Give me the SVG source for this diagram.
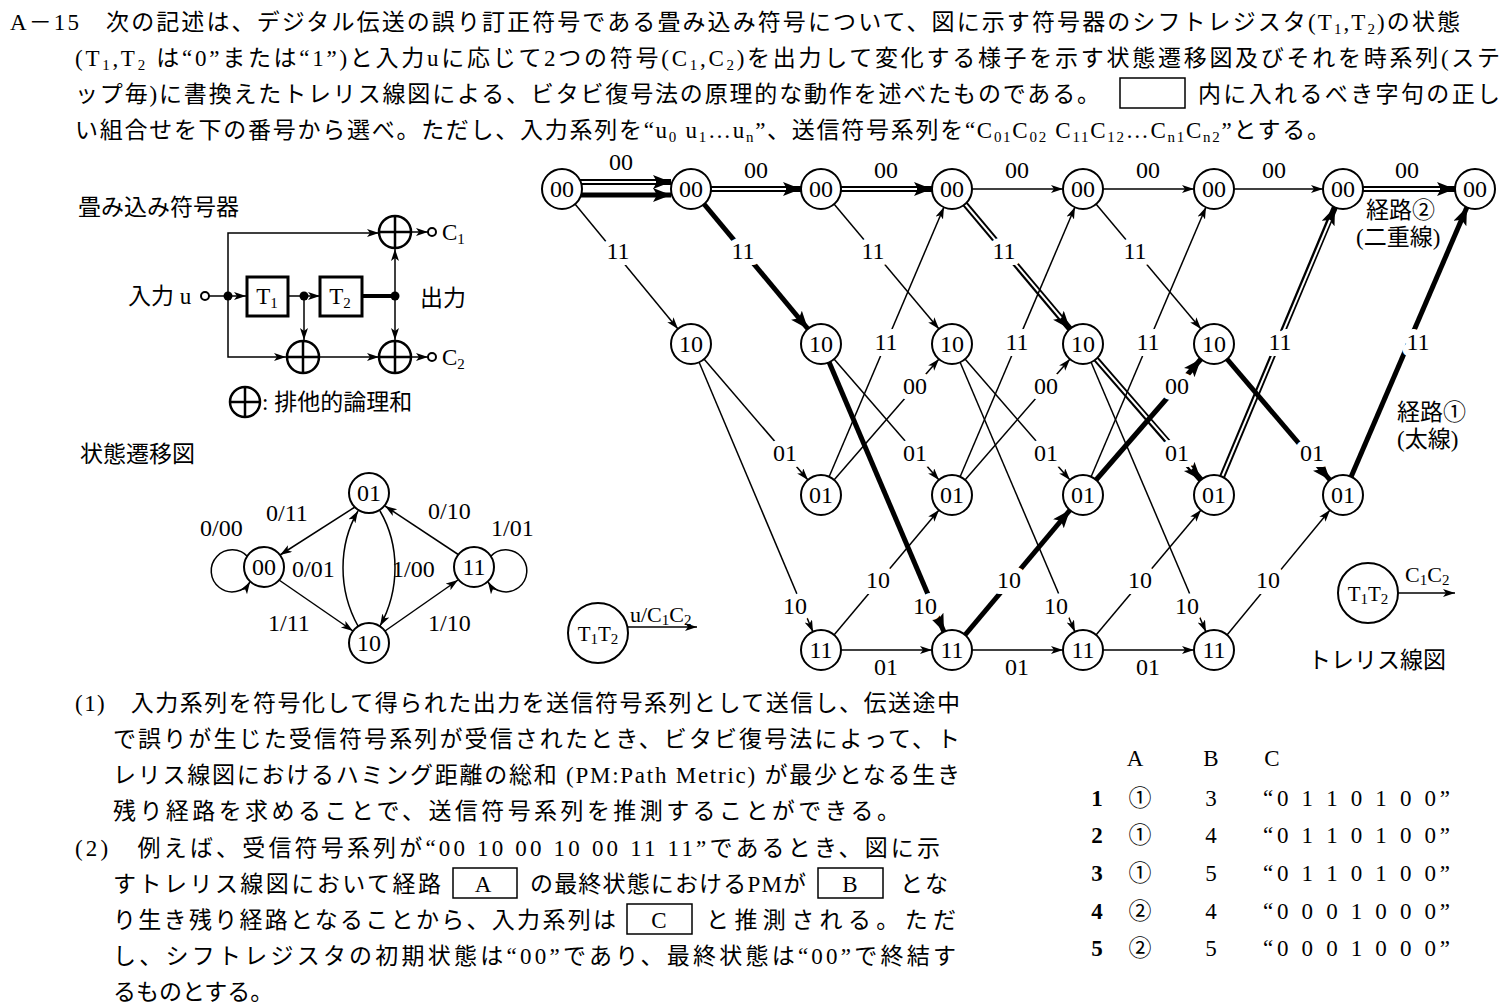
<svg xmlns="http://www.w3.org/2000/svg" width="1506" height="1008" viewBox="0 0 1506 1008">
<style>
text{font-family:"Liberation Serif","Noto Sans CJK JP",serif;fill:#000}
.j{font-size:23px}
.n{font-size:24px;text-anchor:middle;dominant-baseline:central}
.l{font-size:24px;text-anchor:middle;dominant-baseline:central;stroke:#fff;stroke-width:12;stroke-linejoin:round;paint-order:stroke}
.nd{fill:#fff;stroke:#000;stroke-width:2}
.t{stroke:#000;stroke-width:1.5;fill:none}
.k{stroke:#000;stroke-width:5;fill:none}
.d{stroke:#000;stroke-width:6;fill:none}
.w{stroke:#fff;stroke-width:2;fill:none}
.s{font-size:15px}
</style>
<defs>
<marker id="a" markerUnits="userSpaceOnUse" markerWidth="14" markerHeight="10" refX="12" refY="4" orient="auto"><path d="M0,0 L12,4 L0,8 L3,4z"/></marker>
<marker id="b" markerUnits="userSpaceOnUse" markerWidth="22" markerHeight="16" refX="18" refY="7" orient="auto"><path d="M0,0 L18,7 L0,14 L4,7z"/></marker>
</defs>
<rect width="1506" height="1008" fill="#fff"/>

<g id="header" class="j">
<text x="10" y="30" textLength="1450">A－15　次の記述は、デジタル伝送の誤り訂正符号である畳み込み符号について、図に示す符号器のシフトレジスタ(T<tspan class="s" dy="4">1</tspan><tspan dy="-4">,T</tspan><tspan class="s" dy="4">2</tspan><tspan dy="-4">)の状態</tspan></text>
<text x="75" y="66" textLength="1425">(T<tspan class="s" dy="4">1</tspan><tspan dy="-4">,T</tspan><tspan class="s" dy="4">2</tspan><tspan dy="-4"> は“0”または“1”)と入力uに応じて2つの符号(C</tspan><tspan class="s" dy="4">1</tspan><tspan dy="-4">,C</tspan><tspan class="s" dy="4">2</tspan><tspan dy="-4">)を出力して変化する様子を示す状態遷移図及びそれを時系列(ステ</tspan></text>
<text x="75" y="102" textLength="1025">ップ毎)に書換えたトレリス線図による、ビタビ復号法の原理的な動作を述べたものである。</text>
<rect x="1120" y="78" width="65" height="30" fill="none" stroke="#000" stroke-width="1.5"/>
<text x="1198" y="102" textLength="302">内に入れるべき字句の正し</text>
<text x="75" y="138" textLength="1255">い組合せを下の番号から選べ。ただし、入力系列を“u<tspan class="s" dy="4">0</tspan><tspan dy="-4"> u</tspan><tspan class="s" dy="4">1</tspan><tspan dy="-4">…u</tspan><tspan class="s" dy="4">n</tspan><tspan dy="-4">”、送信符号系列を“C</tspan><tspan class="s" dy="4">01</tspan><tspan dy="-4">C</tspan><tspan class="s" dy="4">02</tspan><tspan dy="-4"> C</tspan><tspan class="s" dy="4">11</tspan><tspan dy="-4">C</tspan><tspan class="s" dy="4">12</tspan><tspan dy="-4">…C</tspan><tspan class="s" dy="4">n1</tspan><tspan dy="-4">C</tspan><tspan class="s" dy="4">n2</tspan><tspan dy="-4">”とする。</tspan></text>
</g>

<g id="encoder">
<text class="j" x="78" y="215">畳み込み符号器</text>
<g class="t">
<path d="M228,296 V233 H379" marker-end="url(#a)"/>
<path d="M228,296 V357 H286" marker-end="url(#a)"/>
<path d="M319,357 H379" marker-end="url(#a)"/>
<path d="M209,296 H246" marker-end="url(#a)"/>
<path d="M288,296 H320" marker-end="url(#a)"/>
<path d="M304,296 V340" marker-end="url(#a)"/>
<path d="M395,296 V249" marker-end="url(#a)"/>
<path d="M395,296 V340" marker-end="url(#a)"/>
<path d="M411,232 H428" marker-end="url(#a)"/>
<path d="M411,357 H428" marker-end="url(#a)"/>
</g>
<path d="M362,296 H395" stroke="#000" stroke-width="4"/>
<rect x="247" y="277" width="41" height="39" fill="#fff" stroke="#000" stroke-width="3"/>
<rect x="320" y="277" width="42" height="39" fill="#fff" stroke="#000" stroke-width="3"/>
<text x="267" y="304" font-size="23" text-anchor="middle">T<tspan class="s" dy="4">1</tspan></text>
<text x="340" y="304" font-size="23" text-anchor="middle">T<tspan class="s" dy="4">2</tspan></text>
<circle cx="228" cy="296" r="4.5"/><circle cx="304" cy="296" r="4.5"/><circle cx="395" cy="296" r="4.5"/>
<circle cx="205" cy="296" r="4" fill="#fff" stroke="#000" stroke-width="2"/>
<circle cx="432" cy="232" r="4" fill="#fff" stroke="#000" stroke-width="2"/>
<circle cx="432" cy="357" r="4" fill="#fff" stroke="#000" stroke-width="2"/>
<g fill="#fff" stroke="#000" stroke-width="2.5">
<circle cx="395" cy="232" r="16"/><path d="M379,232H411M395,216V248"/>
<circle cx="303" cy="357" r="16"/><path d="M287,357H319M303,341V373"/>
<circle cx="395" cy="357" r="16"/><path d="M379,357H411M395,341V373"/>
<circle cx="245" cy="402" r="15"/><path d="M230,402H260M245,387V417"/>
</g>
<text class="j" x="128" y="304">入力 u</text>
<text x="442" y="240" font-size="23">C<tspan class="s" dy="4">1</tspan></text>
<text x="442" y="365" font-size="23">C<tspan class="s" dy="4">2</tspan></text>
<text class="j" x="420" y="306">出力</text>
<text class="j" x="262" y="410">: 排他的論理和</text>
</g>

<g id="state-diagram">
<text class="j" x="80" y="462">状態遷移図</text>
<g class="t">
<path d="M355,507 L280,555" marker-end="url(#a)"/>
<path d="M459,555 L385,506" marker-end="url(#a)"/>
<path d="M279,580 L353,631" marker-end="url(#a)"/>
<path d="M385,631 L458,580" marker-end="url(#a)"/>
<path d="M358,626 C338,590 338,545 358,511" marker-end="url(#a)"/>
<path d="M380,511 C400,545 400,590 380,626" marker-end="url(#a)"/>
<path d="M248,557 A21,21 0 1 0 250,582" marker-end="url(#a)"/>
<path d="M490,557 A21,21 0 1 1 488,582" marker-end="url(#a)"/>
</g>
<g id="s01"><circle class="nd" cx="369" cy="493" r="20"/><text class="n" x="369" y="493">01</text></g>
<g id="s00"><circle class="nd" cx="264" cy="567" r="20"/><text class="n" x="264" y="567">00</text></g>
<g id="s11"><circle class="nd" cx="474" cy="567" r="20"/><text class="n" x="474" y="567">11</text></g>
<g id="s10"><circle class="nd" cx="369" cy="643" r="20"/><text class="n" x="369" y="643">10</text></g>
<g font-size="24">
<text x="266" y="521">0/11</text><text x="428" y="519">0/10</text>
<text x="200" y="536">0/00</text><text x="491" y="536">1/01</text>
<text x="292" y="577">0/01</text><text x="392" y="577">1/00</text>
<text x="268" y="631">1/11</text><text x="428" y="631">1/10</text>
</g>
<circle class="nd" cx="598" cy="633" r="30"/>
<text x="598" y="641" font-size="21" text-anchor="middle">T<tspan class="s" dy="3">1</tspan><tspan dy="-3">T</tspan><tspan class="s" dy="3">2</tspan></text>
<text x="630" y="622" font-size="22">u/C<tspan class="s" dy="3">1</tspan><tspan dy="-3">C</tspan><tspan class="s" dy="3">2</tspan></text>
<path class="t" d="M628,627 H697" marker-end="url(#a)"/>
</g>

<g id="connectors">
<path class="d" d="M580,182 H671" marker-end="url(#b)"/><path class="w" d="M580,182 H656"/>
<path class="k" d="M581,195 H671" marker-end="url(#b)"/>
<path class="t" d="M575,204 L678,329" marker-end="url(#a)"/>
<path class="d" d="M711,189 H801" marker-end="url(#b)"/><path class="w" d="M711,189 H786"/>
<path class="k" d="M704,204 L808,329" marker-end="url(#b)"/>
<path class="t" d="M704,359 L808,480" marker-end="url(#a)"/>
<path class="t" d="M699,362 L813,632" marker-end="url(#a)"/>
<path class="d" d="M841,189 H932" marker-end="url(#b)"/><path class="w" d="M841,189 H917"/>
<path class="t" d="M834,204 L939,329" marker-end="url(#a)"/>
<path class="t" d="M834,359 L939,480" marker-end="url(#a)"/>
<path class="k" d="M829,362 L944,632" marker-end="url(#b)"/>
<path class="t" d="M829,477 L944,207" marker-end="url(#a)"/>
<path class="t" d="M834,480 L939,359" marker-end="url(#a)"/>
<path class="t" d="M834,635 L939,510" marker-end="url(#a)"/>
<path class="t" d="M841,650 H932" marker-end="url(#a)"/>
<path class="t" d="M972,189 H1063" marker-end="url(#a)"/>
<path class="d" d="M965,204 L1070,329" marker-end="url(#b)"/><path class="w" d="M965,204 L1061,318"/>
<path class="t" d="M965,359 L1070,480" marker-end="url(#a)"/>
<path class="t" d="M960,362 L1075,632" marker-end="url(#a)"/>
<path class="t" d="M960,477 L1075,207" marker-end="url(#a)"/>
<path class="t" d="M965,480 L1070,359" marker-end="url(#a)"/>
<path class="k" d="M965,635 L1070,510" marker-end="url(#b)"/>
<path class="t" d="M972,650 H1063" marker-end="url(#a)"/>
<path class="t" d="M1103,189 H1194" marker-end="url(#a)"/>
<path class="t" d="M1096,204 L1201,329" marker-end="url(#a)"/>
<path class="d" d="M1096,359 L1201,480" marker-end="url(#b)"/><path class="w" d="M1096,359 L1192,469"/>
<path class="t" d="M1091,362 L1206,632" marker-end="url(#a)"/>
<path class="t" d="M1091,477 L1206,207" marker-end="url(#a)"/>
<path class="k" d="M1096,480 L1201,359" marker-end="url(#b)"/>
<path class="t" d="M1096,635 L1201,510" marker-end="url(#a)"/>
<path class="t" d="M1103,650 H1194" marker-end="url(#a)"/>
<path class="t" d="M1234,189 H1323" marker-end="url(#a)"/>
<path class="d" d="M1222,477 L1335,207" marker-end="url(#b)"/><path class="w" d="M1222,477 L1330,220"/>
<path class="k" d="M1227,359 L1330,480" marker-end="url(#b)"/>
<path class="t" d="M1227,635 L1330,510" marker-end="url(#a)"/>
<path class="d" d="M1363,189 H1455" marker-end="url(#b)"/><path class="w" d="M1363,189 H1440"/>
<path class="k" d="M1351,477 L1467,207" marker-end="url(#b)"/>
</g>

<g id="edge-labels">
<text class="l" x="621" y="162">00</text><text class="l" x="618" y="251">11</text>
<text class="l" x="756" y="170">00</text><text class="l" x="743" y="251">11</text><text class="l" x="785" y="453">01</text><text class="l" x="795" y="606">10</text>
<text class="l" x="886" y="170">00</text><text class="l" x="873" y="251">11</text><text class="l" x="915" y="453">01</text><text class="l" x="925" y="606">10</text><text class="l" x="886" y="342">11</text><text class="l" x="915" y="386">00</text><text class="l" x="878" y="580">10</text><text class="l" x="886" y="667">01</text>
<text class="l" x="1017" y="170">00</text><text class="l" x="1004" y="251">11</text><text class="l" x="1046" y="453">01</text><text class="l" x="1056" y="606">10</text><text class="l" x="1017" y="342">11</text><text class="l" x="1046" y="386">00</text><text class="l" x="1009" y="580">10</text><text class="l" x="1017" y="667">01</text>
<text class="l" x="1148" y="170">00</text><text class="l" x="1135" y="251">11</text><text class="l" x="1177" y="453">01</text><text class="l" x="1187" y="606">10</text><text class="l" x="1148" y="342">11</text><text class="l" x="1177" y="386">00</text><text class="l" x="1140" y="580">10</text><text class="l" x="1148" y="667">01</text>
<text class="l" x="1274" y="170">00</text><text class="l" x="1280" y="342">11</text><text class="l" x="1312" y="453">01</text><text class="l" x="1268" y="580">10</text>
<text class="l" x="1407" y="170">00</text><text class="l" x="1418" y="342">11</text>
</g>

<g id="trellis-nodes">
<g id="t0-00"><circle class="nd" cx="562" cy="189" r="20"/><text class="n" x="562" y="189">00</text></g>
<g id="t1-00"><circle class="nd" cx="691" cy="189" r="20"/><text class="n" x="691" y="189">00</text></g>
<g id="t1-10"><circle class="nd" cx="691" cy="344" r="20"/><text class="n" x="691" y="344">10</text></g>
<g id="t2-00"><circle class="nd" cx="821" cy="189" r="20"/><text class="n" x="821" y="189">00</text></g>
<g id="t2-10"><circle class="nd" cx="821" cy="344" r="20"/><text class="n" x="821" y="344">10</text></g>
<g id="t2-01"><circle class="nd" cx="821" cy="495" r="20"/><text class="n" x="821" y="495">01</text></g>
<g id="t2-11"><circle class="nd" cx="821" cy="650" r="20"/><text class="n" x="821" y="650">11</text></g>
<g id="t3-00"><circle class="nd" cx="952" cy="189" r="20"/><text class="n" x="952" y="189">00</text></g>
<g id="t3-10"><circle class="nd" cx="952" cy="344" r="20"/><text class="n" x="952" y="344">10</text></g>
<g id="t3-01"><circle class="nd" cx="952" cy="495" r="20"/><text class="n" x="952" y="495">01</text></g>
<g id="t3-11"><circle class="nd" cx="952" cy="650" r="20"/><text class="n" x="952" y="650">11</text></g>
<g id="t4-00"><circle class="nd" cx="1083" cy="189" r="20"/><text class="n" x="1083" y="189">00</text></g>
<g id="t4-10"><circle class="nd" cx="1083" cy="344" r="20"/><text class="n" x="1083" y="344">10</text></g>
<g id="t4-01"><circle class="nd" cx="1083" cy="495" r="20"/><text class="n" x="1083" y="495">01</text></g>
<g id="t4-11"><circle class="nd" cx="1083" cy="650" r="20"/><text class="n" x="1083" y="650">11</text></g>
<g id="t5-00"><circle class="nd" cx="1214" cy="189" r="20"/><text class="n" x="1214" y="189">00</text></g>
<g id="t5-10"><circle class="nd" cx="1214" cy="344" r="20"/><text class="n" x="1214" y="344">10</text></g>
<g id="t5-01"><circle class="nd" cx="1214" cy="495" r="20"/><text class="n" x="1214" y="495">01</text></g>
<g id="t5-11"><circle class="nd" cx="1214" cy="650" r="20"/><text class="n" x="1214" y="650">11</text></g>
<g id="t6-00"><circle class="nd" cx="1343" cy="189" r="20"/><text class="n" x="1343" y="189">00</text></g>
<g id="t6-01"><circle class="nd" cx="1343" cy="495" r="20"/><text class="n" x="1343" y="495">01</text></g>
<g id="t7-00"><circle class="nd" cx="1475" cy="189" r="20"/><text class="n" x="1475" y="189">00</text></g>
</g>

<g id="trellis-legend">
<text class="j" x="1366" y="218">経路②</text>
<text class="j" x="1356" y="245">(二重線)</text>
<text class="j" x="1397" y="420">経路①</text>
<text class="j" x="1397" y="447">(太線)</text>
<circle class="nd" cx="1368" cy="593" r="30"/>
<text x="1368" y="601" font-size="21" text-anchor="middle">T<tspan class="s" dy="3">1</tspan><tspan dy="-3">T</tspan><tspan class="s" dy="3">2</tspan></text>
<text x="1405" y="582" font-size="22">C<tspan class="s" dy="3">1</tspan><tspan dy="-3">C</tspan><tspan class="s" dy="3">2</tspan></text>
<path class="t" d="M1398,593 H1455" marker-end="url(#a)"/>
<text class="j" x="1308" y="668">トレリス線図</text>
</g>

<g id="body" class="j">
<text x="75" y="711" textLength="885">(1)　入力系列を符号化して得られた出力を送信符号系列として送信し、伝送途中</text>
<text x="113" y="747" textLength="847">で誤りが生じた受信符号系列が受信されたとき、ビタビ復号法によって、ト</text>
<text x="113" y="783" textLength="847">レリス線図におけるハミング距離の総和 (PM:Path Metric) が最少となる生き</text>
<text x="113" y="819" textLength="787">残り経路を求めることで、送信符号系列を推測することができる。</text>
<text x="75" y="856" textLength="865">(2)　例えば、受信符号系列が“00 10 00 10 00 11 11”であるとき、図に示</text>
<text x="113" y="892" textLength="328">すトレリス線図において経路</text>
<rect x="453" y="868" width="64" height="30" fill="none" stroke="#000" stroke-width="1.5"/>
<text x="483" y="892" text-anchor="middle">A</text>
<text x="530" y="892" textLength="276">の最終状態におけるPMが</text>
<rect x="818" y="868" width="65" height="30" fill="none" stroke="#000" stroke-width="1.5"/>
<text x="850" y="892" text-anchor="middle">B</text>
<text x="900" y="892" textLength="48">とな</text>
<text x="113" y="928" textLength="503">り生き残り経路となることから、入力系列は</text>
<rect x="627" y="904" width="65" height="30" fill="none" stroke="#000" stroke-width="1.5"/>
<text x="659" y="928" text-anchor="middle">C</text>
<text x="706" y="928" textLength="250">と推測される。ただ</text>
<text x="113" y="964" textLength="843">し、シフトレジスタの初期状態は“00”であり、最終状態は“00”で終結す</text>
<text x="113" y="1000">るものとする。</text>
</g>

<g id="answers" class="j">
<text x="1135" y="766" text-anchor="middle">A</text><text x="1211" y="766" text-anchor="middle">B</text><text x="1272" y="766" text-anchor="middle">C</text>
<g font-weight="bold"><text x="1097" y="806" text-anchor="middle">1</text><text x="1097" y="843" text-anchor="middle">2</text><text x="1097" y="881" text-anchor="middle">3</text><text x="1097" y="919" text-anchor="middle">4</text><text x="1097" y="956" text-anchor="middle">5</text></g>
<text x="1140" y="806" text-anchor="middle">①</text><text x="1140" y="843" text-anchor="middle">①</text><text x="1140" y="881" text-anchor="middle">①</text><text x="1140" y="919" text-anchor="middle">②</text><text x="1140" y="956" text-anchor="middle">②</text>
<text x="1211" y="806" text-anchor="middle">3</text><text x="1211" y="843" text-anchor="middle">4</text><text x="1211" y="881" text-anchor="middle">5</text><text x="1211" y="919" text-anchor="middle">4</text><text x="1211" y="956" text-anchor="middle">5</text>
<text x="1263" y="806" textLength="187">“0 1 1 0 1 0 0”</text>
<text x="1263" y="843" textLength="187">“0 1 1 0 1 0 0”</text>
<text x="1263" y="881" textLength="187">“0 1 1 0 1 0 0”</text>
<text x="1263" y="919" textLength="187">“0 0 0 1 0 0 0”</text>
<text x="1263" y="956" textLength="187">“0 0 0 1 0 0 0”</text>
</g>
</svg>
